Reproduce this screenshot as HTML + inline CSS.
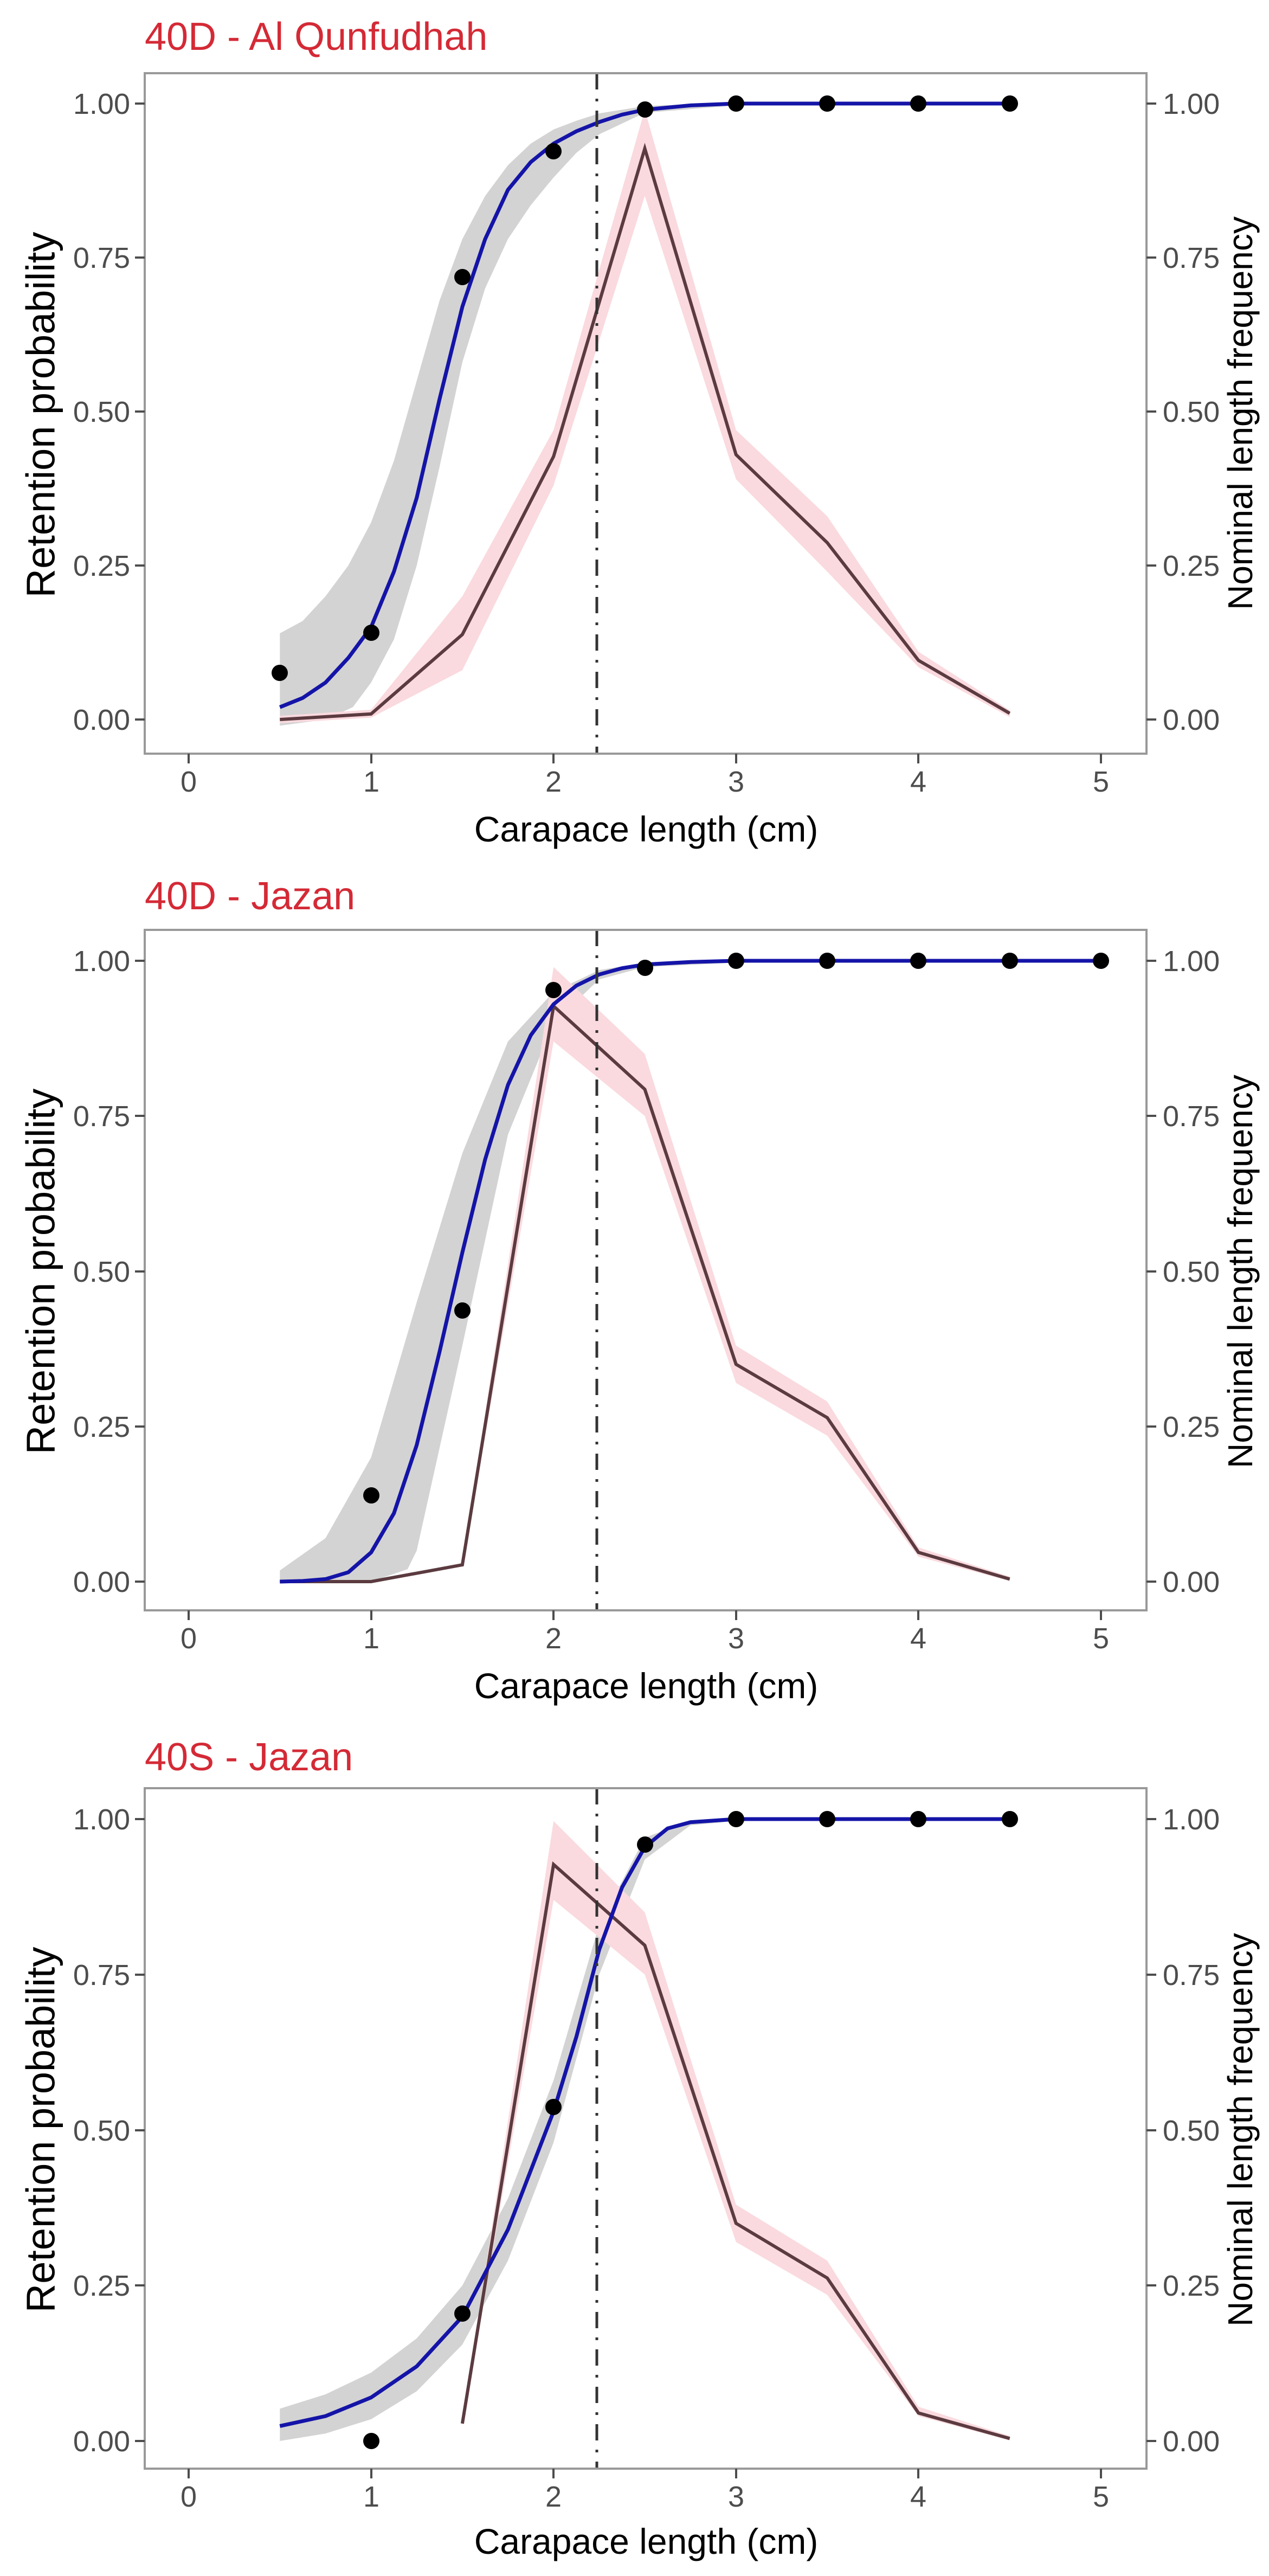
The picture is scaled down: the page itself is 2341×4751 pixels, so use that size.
<!DOCTYPE html>
<html><head><meta charset="utf-8"><style>
html,body{margin:0;padding:0;background:#fff;}
svg{display:block;}
text{font-family:"Liberation Sans",sans-serif;}
.tk{font-size:54px;fill:#4d4d4d;}
.ttl{font-size:72px;fill:#d42a36;}
.ax{font-size:66px;fill:#000;}
.yl{font-size:74px;fill:#000;}
.yr{font-size:64px;fill:#000;}
.nss{vector-effect:non-scaling-stroke;}
</style></head><body>
<svg width="2341" height="4751" viewBox="0 0 2341 4751" xmlns="http://www.w3.org/2000/svg">
<rect width="2341" height="4751" fill="#fff"/>

<!-- ================= PANEL 1 ================= -->
<text class="ttl" x="267" y="92">40D - Al Qunfudhah</text>
<g transform="matrix(336.6 0 0 -1136 348 1327)">
  <polygon fill="#d3d3d3" points="0.5,0.14 0.625,0.16 0.75,0.2 0.875,0.25 1,0.32 1.125,0.42 1.25,0.55 1.375,0.68 1.5,0.78 1.625,0.85 1.75,0.9 1.875,0.935 2,0.958 2.125,0.972 2.25,0.984 2.5,0.996 3,1.002 4.5,1.002 4.5,0.998 3,0.997 2.5,0.985 2.25,0.95 2.125,0.92 2,0.88 1.875,0.835 1.75,0.78 1.625,0.7 1.5,0.58 1.375,0.41 1.25,0.25 1.125,0.13 1,0.06 0.9,0.02 0.75,0 0.5,-0.01"/>
  <polygon fill="#fadadf" points="0.5,0.006 1,0.016 1.5,0.2 2,0.47 2.5,0.99 3,0.47 3.5,0.33 4,0.11 4.5,0.015 4.5,0.004 4,0.085 3.5,0.24 3,0.39 2.5,0.85 2,0.38 1.5,0.08 1,0.003 0.5,-0.006"/>
  <polyline class="nss" fill="none" stroke="#5b3b40" stroke-width="6" points="0.5,0 1,0.009 1.5,0.138 2,0.427 2.5,0.927 3,0.43 3.5,0.287 4,0.096 4.5,0.01"/>
  <polyline class="nss" fill="none" stroke="#1414a8" stroke-width="7" stroke-linejoin="round" points="0.5,0.02 0.625,0.035 0.75,0.06 0.875,0.1 1,0.15 1.125,0.24 1.25,0.36 1.375,0.52 1.5,0.67 1.625,0.78 1.75,0.86 1.875,0.905 2,0.935 2.125,0.955 2.25,0.97 2.375,0.982 2.5,0.99 2.75,0.997 3,1 4.5,1"/>
</g>
<line x1="1101" y1="135" x2="1101" y2="1390" stroke="#333" stroke-width="5" stroke-dasharray="30 17 5 17"/>
<g fill="#000">
  <circle cx="516" cy="1241" r="15"/><circle cx="685" cy="1167" r="15"/><circle cx="853" cy="511" r="15"/>
  <circle cx="1021" cy="279" r="15"/><circle cx="1190" cy="202" r="15"/><circle cx="1358" cy="191" r="15"/>
  <circle cx="1526" cy="191" r="15"/><circle cx="1694" cy="191" r="15"/><circle cx="1863" cy="191" r="15"/>
</g>
<rect x="267" y="135" width="1848" height="1255" fill="none" stroke="#999" stroke-width="4"/>
<g stroke="#4d4d4d" stroke-width="4">
  <line x1="249" y1="191" x2="267" y2="191"/><line x1="249" y1="475" x2="267" y2="475"/><line x1="249" y1="759" x2="267" y2="759"/><line x1="249" y1="1043" x2="267" y2="1043"/><line x1="249" y1="1327" x2="267" y2="1327"/>
  <line x1="2115" y1="191" x2="2133" y2="191"/><line x1="2115" y1="475" x2="2133" y2="475"/><line x1="2115" y1="759" x2="2133" y2="759"/><line x1="2115" y1="1043" x2="2133" y2="1043"/><line x1="2115" y1="1327" x2="2133" y2="1327"/>
  <line x1="348" y1="1390" x2="348" y2="1408"/><line x1="685" y1="1390" x2="685" y2="1408"/><line x1="1021" y1="1390" x2="1021" y2="1408"/><line x1="1358" y1="1390" x2="1358" y2="1408"/><line x1="1694" y1="1390" x2="1694" y2="1408"/><line x1="2031" y1="1390" x2="2031" y2="1408"/>
</g>
<g class="tk" text-anchor="end">
  <text x="240" y="210">1.00</text><text x="240" y="494">0.75</text><text x="240" y="778">0.50</text><text x="240" y="1062">0.25</text><text x="240" y="1346">0.00</text>
</g>
<g class="tk">
  <text x="2145" y="210">1.00</text><text x="2145" y="494">0.75</text><text x="2145" y="778">0.50</text><text x="2145" y="1062">0.25</text><text x="2145" y="1346">0.00</text>
</g>
<g class="tk" text-anchor="middle">
  <text x="348" y="1460">0</text><text x="685" y="1460">1</text><text x="1021" y="1460">2</text><text x="1358" y="1460">3</text><text x="1694" y="1460">4</text><text x="2031" y="1460">5</text>
</g>
<text class="ax" x="1192" y="1552" text-anchor="middle">Carapace length (cm)</text>
<text class="yl" transform="translate(75 765) rotate(-90)" text-anchor="middle" dominant-baseline="central">Retention probability</text>
<text class="yr" transform="translate(2288 762) rotate(-90)" text-anchor="middle" dominant-baseline="central">Nominal length frequency</text>

<!-- ================= PANEL 2 ================= -->
<text class="ttl" x="267" y="1677">40D - Jazan</text>
<g transform="matrix(336.6 0 0 -1145 348 2917)">
  <polygon fill="#d3d3d3" points="0.5,0.018 0.75,0.07 1,0.2 1.25,0.45 1.5,0.69 1.75,0.87 2,0.95 2.25,0.985 2.5,0.997 3,1.002 5,1.002 5,0.998 3,0.997 2.5,0.99 2.25,0.97 2,0.9 1.75,0.72 1.5,0.38 1.25,0.05 1.2,0.02 1,0 0.5,0"/>
  <polygon fill="#fadadf" points="1.5,0.032 2,0.99 2.5,0.85 3,0.38 3.5,0.29 4,0.055 4.5,0.008 4.5,0.001 4,0.04 3.5,0.235 3,0.32 2.5,0.75 2,0.87 1.5,0.022"/>
  <polyline class="nss" fill="none" stroke="#5b3b40" stroke-width="6" points="0.5,0 1,0 1.5,0.027 2,0.927 2.5,0.793 3,0.35 3.5,0.264 4,0.047 4.5,0.004"/>
  <polyline class="nss" fill="none" stroke="#1414a8" stroke-width="7" stroke-linejoin="round" points="0.5,0 0.625,0.001 0.75,0.004 0.875,0.015 1,0.047 1.125,0.11 1.25,0.22 1.375,0.37 1.5,0.53 1.625,0.68 1.75,0.8 1.875,0.88 2,0.93 2.125,0.96 2.25,0.978 2.375,0.988 2.5,0.994 2.75,0.998 3,1 5,1"/>
</g>
<line x1="1101" y1="1715" x2="1101" y2="2970" stroke="#333" stroke-width="5" stroke-dasharray="30 17 5 17"/>
<g fill="#000">
  <circle cx="685" cy="2758" r="15"/><circle cx="853" cy="2417" r="15"/><circle cx="1021" cy="1826" r="15"/>
  <circle cx="1190" cy="1785" r="15"/><circle cx="1358" cy="1772" r="15"/><circle cx="1526" cy="1772" r="15"/>
  <circle cx="1694" cy="1772" r="15"/><circle cx="1863" cy="1772" r="15"/><circle cx="2031" cy="1772" r="15"/>
</g>
<rect x="267" y="1715" width="1848" height="1255" fill="none" stroke="#999" stroke-width="4"/>
<g stroke="#4d4d4d" stroke-width="4">
  <line x1="249" y1="1772" x2="267" y2="1772"/><line x1="249" y1="2058" x2="267" y2="2058"/><line x1="249" y1="2345" x2="267" y2="2345"/><line x1="249" y1="2631" x2="267" y2="2631"/><line x1="249" y1="2917" x2="267" y2="2917"/>
  <line x1="2115" y1="1772" x2="2133" y2="1772"/><line x1="2115" y1="2058" x2="2133" y2="2058"/><line x1="2115" y1="2345" x2="2133" y2="2345"/><line x1="2115" y1="2631" x2="2133" y2="2631"/><line x1="2115" y1="2917" x2="2133" y2="2917"/>
  <line x1="348" y1="2970" x2="348" y2="2988"/><line x1="685" y1="2970" x2="685" y2="2988"/><line x1="1021" y1="2970" x2="1021" y2="2988"/><line x1="1358" y1="2970" x2="1358" y2="2988"/><line x1="1694" y1="2970" x2="1694" y2="2988"/><line x1="2031" y1="2970" x2="2031" y2="2988"/>
</g>
<g class="tk" text-anchor="end">
  <text x="240" y="1791">1.00</text><text x="240" y="2077">0.75</text><text x="240" y="2364">0.50</text><text x="240" y="2650">0.25</text><text x="240" y="2936">0.00</text>
</g>
<g class="tk">
  <text x="2145" y="1791">1.00</text><text x="2145" y="2077">0.75</text><text x="2145" y="2364">0.50</text><text x="2145" y="2650">0.25</text><text x="2145" y="2936">0.00</text>
</g>
<g class="tk" text-anchor="middle">
  <text x="348" y="3040">0</text><text x="685" y="3040">1</text><text x="1021" y="3040">2</text><text x="1358" y="3040">3</text><text x="1694" y="3040">4</text><text x="2031" y="3040">5</text>
</g>
<text class="ax" x="1192" y="3132" text-anchor="middle">Carapace length (cm)</text>
<text class="yl" transform="translate(75 2345) rotate(-90)" text-anchor="middle" dominant-baseline="central">Retention probability</text>
<text class="yr" transform="translate(2288 2345) rotate(-90)" text-anchor="middle" dominant-baseline="central">Nominal length frequency</text>

<!-- ================= PANEL 3 ================= -->
<text class="ttl" x="267" y="3265">40S - Jazan</text>
<g transform="matrix(336.6 0 0 -1147 348 4502)">
  <polygon fill="#d3d3d3" points="0.5,0.052 0.75,0.075 1,0.11 1.25,0.165 1.5,0.25 1.75,0.39 2,0.58 2.25,0.83 2.5,0.97 2.75,0.998 3,1.003 4.5,1.003 4.5,0.997 3,0.997 2.75,0.99 2.5,0.935 2.25,0.75 2,0.48 1.75,0.29 1.5,0.155 1.25,0.08 1,0.035 0.75,0.012 0.5,0"/>
  <polygon fill="#fadadf" points="1.5,0.032 2,0.997 2.5,0.85 3,0.38 3.5,0.29 4,0.055 4.5,0.008 4.5,0.001 4,0.04 3.5,0.235 3,0.32 2.5,0.75 2,0.87 1.5,0.024"/>
  <polyline class="nss" fill="none" stroke="#5b3b40" stroke-width="6" points="1.5,0.028 2,0.927 2.5,0.797 3,0.35 3.5,0.262 4,0.045 4.5,0.004"/>
  <polyline class="nss" fill="none" stroke="#1414a8" stroke-width="7" stroke-linejoin="round" points="0.5,0.024 0.75,0.04 1,0.07 1.25,0.12 1.5,0.2 1.75,0.34 2,0.53 2.125,0.65 2.25,0.79 2.375,0.89 2.5,0.955 2.625,0.985 2.75,0.995 3,1 4.5,1"/>
</g>
<line x1="1101" y1="3298" x2="1101" y2="4553" stroke="#333" stroke-width="5" stroke-dasharray="30 17 5 17"/>
<g fill="#000">
  <circle cx="685" cy="4502" r="15"/><circle cx="853" cy="4267" r="15"/><circle cx="1021" cy="3886" r="15"/>
  <circle cx="1190" cy="3402" r="15"/><circle cx="1358" cy="3355" r="15"/><circle cx="1526" cy="3355" r="15"/>
  <circle cx="1694" cy="3355" r="15"/><circle cx="1863" cy="3355" r="15"/>
</g>
<rect x="267" y="3298" width="1848" height="1255" fill="none" stroke="#999" stroke-width="4"/>
<g stroke="#4d4d4d" stroke-width="4">
  <line x1="249" y1="3355" x2="267" y2="3355"/><line x1="249" y1="3642" x2="267" y2="3642"/><line x1="249" y1="3929" x2="267" y2="3929"/><line x1="249" y1="4215" x2="267" y2="4215"/><line x1="249" y1="4502" x2="267" y2="4502"/>
  <line x1="2115" y1="3355" x2="2133" y2="3355"/><line x1="2115" y1="3642" x2="2133" y2="3642"/><line x1="2115" y1="3929" x2="2133" y2="3929"/><line x1="2115" y1="4215" x2="2133" y2="4215"/><line x1="2115" y1="4502" x2="2133" y2="4502"/>
  <line x1="348" y1="4553" x2="348" y2="4571"/><line x1="685" y1="4553" x2="685" y2="4571"/><line x1="1021" y1="4553" x2="1021" y2="4571"/><line x1="1358" y1="4553" x2="1358" y2="4571"/><line x1="1694" y1="4553" x2="1694" y2="4571"/><line x1="2031" y1="4553" x2="2031" y2="4571"/>
</g>
<g class="tk" text-anchor="end">
  <text x="240" y="3374">1.00</text><text x="240" y="3661">0.75</text><text x="240" y="3948">0.50</text><text x="240" y="4234">0.25</text><text x="240" y="4521">0.00</text>
</g>
<g class="tk">
  <text x="2145" y="3374">1.00</text><text x="2145" y="3661">0.75</text><text x="2145" y="3948">0.50</text><text x="2145" y="4234">0.25</text><text x="2145" y="4521">0.00</text>
</g>
<g class="tk" text-anchor="middle">
  <text x="348" y="4623">0</text><text x="685" y="4623">1</text><text x="1021" y="4623">2</text><text x="1358" y="4623">3</text><text x="1694" y="4623">4</text><text x="2031" y="4623">5</text>
</g>
<text class="ax" x="1192" y="4710" text-anchor="middle">Carapace length (cm)</text>
<text class="yl" transform="translate(75 3928) rotate(-90)" text-anchor="middle" dominant-baseline="central">Retention probability</text>
<text class="yr" transform="translate(2288 3928) rotate(-90)" text-anchor="middle" dominant-baseline="central">Nominal length frequency</text>
</svg>
</body></html>
